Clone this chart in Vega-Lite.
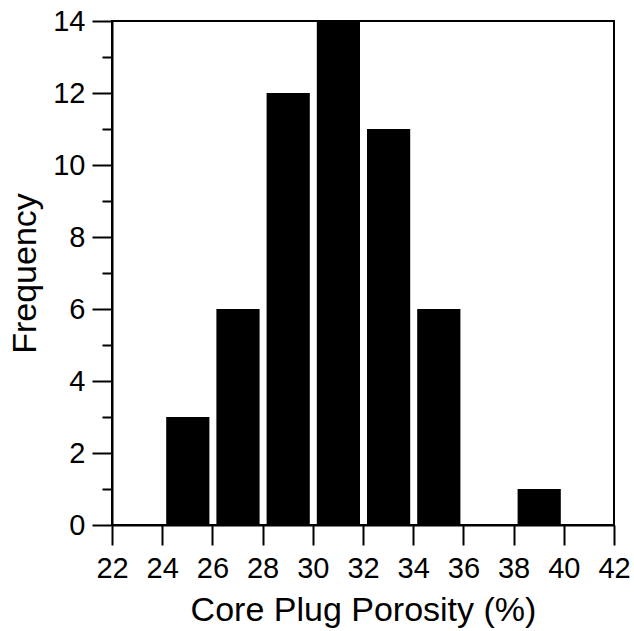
{
  "$schema": "https://vega.github.io/schema/vega-lite/v6.json",
  "width": 502,
  "height": 504,
  "autosize": {"type": "none"},
  "padding": {"left": 112, "top": 21, "right": 20, "bottom": 106},
  "background": "white",
  "config": {
    "font": "Liberation Sans",
    "view": {"stroke": "black", "strokeWidth": 2},
    "axis": {
      "domainColor": "black",
      "domainWidth": 2,
      "tickColor": "black",
      "tickWidth": 2,
      "labelColor": "black",
      "titleColor": "black",
      "labelFont": "Liberation Sans",
      "titleFont": "Liberation Sans",
      "labelFontSize": 29,
      "titleFontSize": 34,
      "titleFontWeight": "normal",
      "grid": false
    }
  },
  "data": {
    "values": [
      {"bin_start": 24, "bin_end": 26, "count": 3},
      {"bin_start": 26, "bin_end": 28, "count": 6},
      {"bin_start": 28, "bin_end": 30, "count": 12},
      {"bin_start": 30, "bin_end": 32, "count": 14},
      {"bin_start": 32, "bin_end": 34, "count": 11},
      {"bin_start": 34, "bin_end": 36, "count": 6},
      {"bin_start": 38, "bin_end": 40, "count": 1}
    ]
  },
  "mark": {"type": "bar", "color": "black", "binSpacing": 7},
  "encoding": {
    "x": {
      "field": "bin_start",
      "type": "quantitative",
      "bin": {"binned": true, "step": 2},
      "scale": {"domain": [22, 42], "nice": false},
      "axis": {
        "title": "Core Plug Porosity (%)",
        "values": [22, 24, 26, 28, 30, 32, 34, 36, 38, 40, 42],
        "tickSize": 20,
        "labelPadding": 9,
        "titlePadding": 10,
        "labelFlush": false,
        "labelOverlap": false
      }
    },
    "x2": {"field": "bin_end"},
    "y": {
      "field": "count",
      "type": "quantitative",
      "scale": {"domain": [0, 14], "nice": false},
      "axis": {
        "title": "Frequency",
        "values": [0, 1, 2, 3, 4, 5, 6, 7, 8, 9, 10, 11, 12, 13, 14],
        "labelExpr": "datum.value % 2 == 0 ? datum.label : ''",
        "tickSize": {"condition": {"test": "datum.value % 2 == 1", "value": 10}, "value": 20},
        "labelPadding": 7,
        "titlePadding": 10,
        "labelFlush": false,
        "labelOverlap": false
      }
    }
  }
}
